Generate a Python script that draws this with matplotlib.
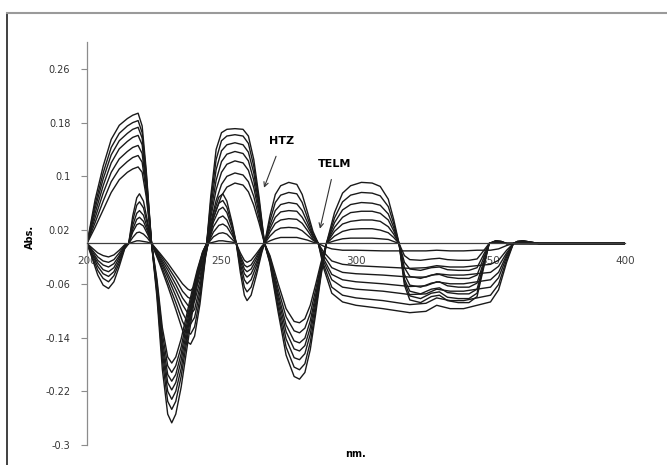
import matplotlib
matplotlib.use('Agg')
import matplotlib.pyplot as plt

# first-derivative spectra, set A (large bands) - wavelengths and one row per curve
wl_a = [200, 203, 206, 209, 212, 215, 217, 219, 220.5, 222, 224,
        226, 228, 230, 231.5, 233, 235, 237, 239, 241, 243, 244.5,
        246, 248, 250, 252, 255, 258, 260, 262, 264, 266,
        268, 271, 274, 277, 279, 281, 283, 285, 287, 289,
        292, 295, 298, 302, 306, 309, 312, 314, 316,
        318, 320, 324, 328, 331, 334, 338, 342, 345, 347, 349.5, 352, 354, 356, 400]

abs_a = [
    [0, 0.065, 0.115, 0.155, 0.176, 0.186, 0.191, 0.194, 0.175, 0.110, 0,
     -0.080, -0.187, -0.254, -0.267, -0.254, -0.214, -0.160, -0.107, -0.059, -0.019, 0,
     0.070, 0.140, 0.165, 0.170, 0.171, 0.170, 0.160, 0.125, 0.068, 0,
     -0.030, -0.101, -0.166, -0.198, -0.202, -0.192, -0.158, -0.105, -0.048, 0,
     0.046, 0.075, 0.086, 0.091, 0.090, 0.085, 0.066, 0.036, 0,
     -0.062, -0.084, -0.088, -0.079, -0.077, -0.085, -0.088, -0.088, -0.079, -0.044, 0, 0.004, 0.003, 0, 0],
    [0, 0.058, 0.105, 0.143, 0.164, 0.175, 0.180, 0.183, 0.165, 0.105, 0,
     -0.074, -0.173, -0.235, -0.247, -0.235, -0.198, -0.148, -0.099, -0.054, -0.017, 0,
     0.062, 0.125, 0.153, 0.160, 0.162, 0.160, 0.149, 0.115, 0.062, 0,
     -0.028, -0.094, -0.154, -0.184, -0.188, -0.179, -0.147, -0.098, -0.045, 0,
     0.038, 0.062, 0.072, 0.076, 0.075, 0.071, 0.055, 0.030, 0,
     -0.057, -0.078, -0.082, -0.074, -0.072, -0.080, -0.082, -0.082, -0.074, -0.041, 0, 0.004, 0.003, 0, 0],
    [0, 0.052, 0.096, 0.132, 0.153, 0.164, 0.170, 0.173, 0.157, 0.100, 0,
     -0.070, -0.162, -0.220, -0.232, -0.220, -0.186, -0.139, -0.093, -0.051, -0.016, 0,
     0.053, 0.110, 0.138, 0.147, 0.150, 0.147, 0.136, 0.105, 0.056, 0,
     -0.026, -0.087, -0.142, -0.170, -0.173, -0.164, -0.135, -0.090, -0.042, 0,
     0.031, 0.050, 0.058, 0.061, 0.060, 0.057, 0.044, 0.024, 0,
     -0.053, -0.071, -0.075, -0.068, -0.066, -0.073, -0.075, -0.075, -0.068, -0.038, 0, 0.004, 0.003, 0, 0],
    [0, 0.045, 0.086, 0.120, 0.141, 0.152, 0.158, 0.161, 0.147, 0.093, 0,
     -0.065, -0.153, -0.207, -0.218, -0.207, -0.174, -0.131, -0.087, -0.048, -0.015, 0,
     0.045, 0.094, 0.122, 0.133, 0.137, 0.134, 0.123, 0.094, 0.050, 0,
     -0.024, -0.080, -0.131, -0.157, -0.160, -0.152, -0.125, -0.083, -0.038, 0,
     0.024, 0.039, 0.046, 0.048, 0.048, 0.045, 0.035, 0.019, 0,
     -0.046, -0.062, -0.065, -0.059, -0.057, -0.063, -0.065, -0.065, -0.059, -0.033, 0, 0.003, 0.002, 0, 0],
    [0, 0.038, 0.075, 0.106, 0.126, 0.137, 0.143, 0.146, 0.134, 0.086, 0,
     -0.062, -0.144, -0.195, -0.205, -0.195, -0.164, -0.123, -0.082, -0.045, -0.014, 0,
     0.038, 0.080, 0.106, 0.118, 0.123, 0.120, 0.109, 0.083, 0.044, 0,
     -0.022, -0.074, -0.121, -0.145, -0.148, -0.141, -0.115, -0.077, -0.036, 0,
     0.018, 0.029, 0.033, 0.035, 0.035, 0.033, 0.025, 0.014, 0,
     -0.036, -0.049, -0.052, -0.047, -0.046, -0.050, -0.052, -0.052, -0.047, -0.026, 0, 0.003, 0.002, 0, 0],
    [0, 0.031, 0.063, 0.092, 0.111, 0.122, 0.128, 0.131, 0.121, 0.078, 0,
     -0.058, -0.134, -0.182, -0.192, -0.182, -0.154, -0.115, -0.077, -0.042, -0.013, 0,
     0.031, 0.064, 0.088, 0.100, 0.105, 0.102, 0.092, 0.070, 0.037, 0,
     -0.020, -0.067, -0.109, -0.130, -0.133, -0.126, -0.104, -0.069, -0.032, 0,
     0.011, 0.018, 0.021, 0.022, 0.022, 0.020, 0.016, 0.009, 0,
     -0.028, -0.038, -0.040, -0.036, -0.035, -0.039, -0.040, -0.040, -0.036, -0.020, 0, 0.002, 0.002, 0, 0],
    [0, 0.024, 0.050, 0.076, 0.095, 0.106, 0.111, 0.114, 0.106, 0.070, 0,
     -0.053, -0.125, -0.169, -0.178, -0.169, -0.142, -0.107, -0.071, -0.039, -0.012, 0,
     0.025, 0.050, 0.071, 0.084, 0.090, 0.087, 0.077, 0.057, 0.030, 0,
     -0.018, -0.059, -0.097, -0.116, -0.118, -0.112, -0.092, -0.061, -0.028, 0,
     0.004, 0.007, 0.008, 0.008, 0.008, 0.007, 0.006, 0.003, 0,
     -0.018, -0.024, -0.025, -0.023, -0.022, -0.024, -0.025, -0.025, -0.023, -0.013, 0, 0.002, 0.001, 0, 0],
]

# set B (smaller bands)
wl_b = [200, 202, 204, 206, 208, 210, 212, 214, 215.5, 217, 218.5, 219.5, 221, 222.5, 224,
        227, 230, 233, 235.5, 237.5, 238.5, 240, 242, 244, 245,
        247, 249, 250.5, 252, 254, 255.5,
        257, 258.5, 259.5, 261, 263, 265, 266,
        268, 270, 272, 275, 278, 280, 282, 284, 286,
        288, 291, 295, 300, 310, 320, 326, 330, 335, 340, 345, 350, 353, 356, 358.5, 360, 362, 365, 368, 400]

abs_b = [
    [0, -0.023, -0.047, -0.062, -0.067, -0.057, -0.034, -0.008, 0, 0.041, 0.068, 0.074, 0.063, 0.033, 0,
     -0.030, -0.063, -0.098, -0.129, -0.147, -0.150, -0.138, -0.090, -0.022, 0,
     0.044, 0.069, 0.074, 0.063, 0.030, 0,
     -0.043, -0.077, -0.085, -0.077, -0.047, -0.013, 0,
     0.041, 0.073, 0.086, 0.091, 0.088, 0.073, 0.046, 0.018, 0,
     -0.037, -0.074, -0.087, -0.092, -0.097, -0.103, -0.101, -0.092, -0.097, -0.097, -0.092, -0.087, -0.069, -0.028, 0, 0.003, 0.004, 0.002, 0, 0],
    [0, -0.020, -0.040, -0.052, -0.057, -0.048, -0.029, -0.007, 0, 0.034, 0.057, 0.062, 0.053, 0.028, 0,
     -0.027, -0.057, -0.088, -0.116, -0.132, -0.135, -0.124, -0.081, -0.020, 0,
     0.038, 0.060, 0.064, 0.054, 0.026, 0,
     -0.036, -0.065, -0.072, -0.065, -0.040, -0.011, 0,
     0.034, 0.061, 0.072, 0.076, 0.074, 0.061, 0.038, 0.015, 0,
     -0.032, -0.065, -0.077, -0.081, -0.085, -0.091, -0.089, -0.081, -0.085, -0.085, -0.081, -0.077, -0.061, -0.024, 0, 0.003, 0.004, 0.002, 0, 0],
    [0, -0.017, -0.034, -0.045, -0.049, -0.042, -0.025, -0.006, 0, 0.027, 0.045, 0.049, 0.042, 0.022, 0,
     -0.024, -0.050, -0.078, -0.103, -0.118, -0.120, -0.110, -0.072, -0.018, 0,
     0.032, 0.050, 0.054, 0.046, 0.022, 0,
     -0.030, -0.054, -0.060, -0.054, -0.033, -0.009, 0,
     0.027, 0.049, 0.058, 0.061, 0.059, 0.049, 0.031, 0.012, 0,
     -0.027, -0.054, -0.065, -0.068, -0.071, -0.076, -0.075, -0.068, -0.071, -0.071, -0.068, -0.065, -0.051, -0.020, 0, 0.003, 0.004, 0.002, 0, 0],
    [0, -0.015, -0.029, -0.039, -0.042, -0.036, -0.021, -0.005, 0, 0.021, 0.036, 0.039, 0.033, 0.018, 0,
     -0.021, -0.045, -0.069, -0.091, -0.104, -0.106, -0.098, -0.064, -0.016, 0,
     0.025, 0.038, 0.041, 0.035, 0.016, 0,
     -0.025, -0.045, -0.050, -0.045, -0.028, -0.008, 0,
     0.022, 0.039, 0.047, 0.049, 0.048, 0.039, 0.025, 0.010, 0,
     -0.023, -0.046, -0.054, -0.057, -0.060, -0.064, -0.063, -0.057, -0.060, -0.060, -0.057, -0.054, -0.043, -0.017, 0, 0.002, 0.003, 0.002, 0, 0],
    [0, -0.012, -0.025, -0.032, -0.035, -0.030, -0.018, -0.004, 0, 0.017, 0.028, 0.030, 0.026, 0.014, 0,
     -0.019, -0.039, -0.061, -0.081, -0.092, -0.094, -0.086, -0.056, -0.014, 0,
     0.017, 0.027, 0.029, 0.025, 0.012, 0,
     -0.021, -0.038, -0.042, -0.038, -0.023, -0.006, 0,
     0.017, 0.030, 0.035, 0.037, 0.036, 0.030, 0.019, 0.007, 0,
     -0.018, -0.036, -0.043, -0.045, -0.047, -0.050, -0.050, -0.045, -0.047, -0.047, -0.045, -0.043, -0.034, -0.014, 0, 0.002, 0.003, 0.001, 0, 0],
    [0, -0.010, -0.020, -0.026, -0.028, -0.024, -0.014, -0.003, 0, 0.009, 0.016, 0.017, 0.014, 0.008, 0,
     -0.016, -0.034, -0.053, -0.071, -0.080, -0.082, -0.075, -0.049, -0.012, 0,
     0.010, 0.015, 0.016, 0.014, 0.006, 0,
     -0.018, -0.032, -0.035, -0.032, -0.019, -0.005, 0,
     0.011, 0.019, 0.023, 0.024, 0.023, 0.019, 0.012, 0.005, 0,
     -0.013, -0.026, -0.031, -0.033, -0.035, -0.037, -0.036, -0.033, -0.035, -0.035, -0.033, -0.031, -0.025, -0.010, 0, 0.002, 0.002, 0.001, 0, 0],
    [0, -0.007, -0.014, -0.018, -0.020, -0.017, -0.010, -0.002, 0, 0.002, 0.004, 0.004, 0.003, 0.002, 0,
     -0.014, -0.029, -0.046, -0.060, -0.068, -0.070, -0.064, -0.042, -0.010, 0,
     0.002, 0.004, 0.004, 0.003, 0.002, 0,
     -0.014, -0.025, -0.028, -0.025, -0.015, -0.004, 0,
     0.004, 0.007, 0.009, 0.009, 0.009, 0.007, 0.005, 0.002, 0,
     -0.004, -0.008, -0.010, -0.010, -0.011, -0.011, -0.011, -0.010, -0.011, -0.011, -0.010, -0.010, -0.008, -0.003, 0, 0.001, 0.001, 0, 0, 0],
]

y_ticks = [-0.3, -0.22, -0.14, -0.06, 0.02, 0.1, 0.18, 0.26]
y_labels = ['-0.3', '-0.22', '-0.14', '-0.06', '0.02', '0.1', '0.18', '0.26']
x_ticks = [200, 250, 300, 350, 400]

fig = plt.figure(figsize=(6.67, 4.65), dpi=100)
ax = fig.add_axes([87 / 667, 20 / 465, 538 / 667, 403 / 465])

for row in abs_a:
    ax.plot(wl_a, row, color='#1a1a1a', lw=1.0)
for row in abs_b:
    ax.plot(wl_b, row, color='#1a1a1a', lw=1.0)

ax.set_xlim(200, 400)
ax.set_ylim(-0.3, 0.3)
ax.set_yticks(y_ticks)
ax.set_yticklabels(y_labels)
ax.set_xticks(x_ticks)
ax.set_xticklabels([str(t) for t in x_ticks])

ax.spines['top'].set_visible(False)
ax.spines['right'].set_visible(False)
ax.spines['left'].set_color('#8c8c8c')
ax.spines['left'].set_linewidth(0.9)
ax.spines['bottom'].set_position(('data', 0))
ax.spines['bottom'].set_color('#404040')
ax.spines['bottom'].set_linewidth(0.9)
ax.tick_params(axis='y', direction='out', length=4, color='#8c8c8c',
               labelsize=7, labelcolor='#333333', pad=8)
ax.tick_params(axis='x', length=0, labelsize=7.5, labelcolor='#444444', pad=9)
ax.set_facecolor('none')

# annotations for the zero-crossing points
ax.annotate('HTZ', xy=(265.8, 0.083), xytext=(272.5, 0.153),
            fontsize=8, fontweight='bold', ha='center', va='center',
            arrowprops=dict(arrowstyle='->', color='#333333', lw=0.8,
                            shrinkA=6, shrinkB=0))
ax.annotate('TELM', xy=(286.6, 0.022), xytext=(292.2, 0.119),
            fontsize=8, fontweight='bold', ha='center', va='center',
            arrowprops=dict(arrowstyle='->', color='#333333', lw=0.8,
                            shrinkA=6, shrinkB=0))

fig.text(30 / 667, 1 - 237 / 465, 'Abs.', rotation=90, fontsize=7,
         fontweight='bold', ha='center', va='center')
fig.text(355 / 667, 1 - 454 / 465, 'nm.', fontsize=7, fontweight='bold',
         ha='center', va='center')

# outer frame (cut off at right and bottom)
fig.add_artist(plt.Line2D([7 / 667, 7 / 667], [0, 1 - 13 / 465], color='#202020',
                          lw=1.2, transform=fig.transFigure))
fig.add_artist(plt.Line2D([7 / 667, 1], [1 - 13 / 465, 1 - 13 / 465], color='#9a9a9a',
                          lw=1.5, transform=fig.transFigure))

fig.savefig('out.png', dpi=100)
